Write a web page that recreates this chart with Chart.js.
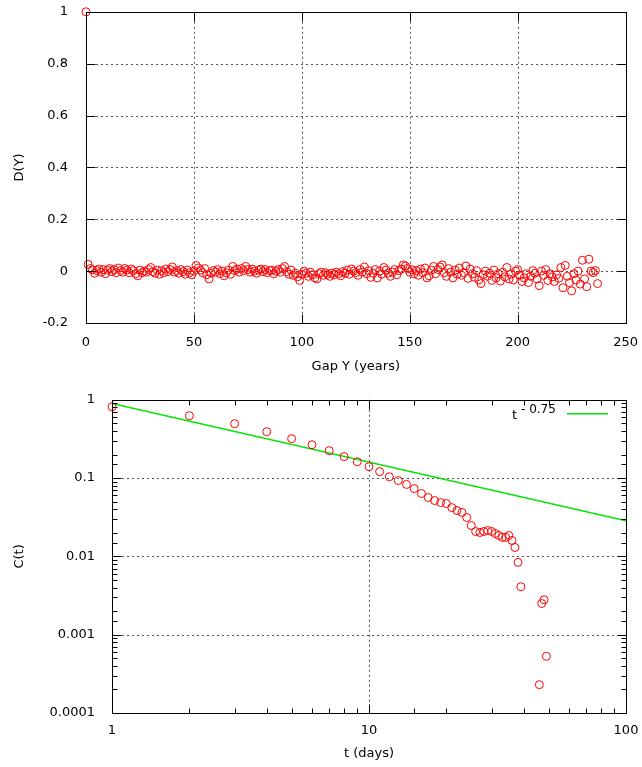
<!DOCTYPE html>
<html>
<head>
<meta charset="utf-8">
<script src="https://cdn.jsdelivr.net/npm/chart.js@4/dist/chart.umd.min.js"></script>
<style>
  body { margin: 0; background: #fff; overflow: hidden; }
  canvas { display: block; }
  #grafikD { margin-top: -6px; }
</style>
</head>
<body>
<canvas id="grafikD" width="642" height="389"></canvas>
<canvas id="grafikC" width="642" height="384"></canvas>
<script>
  // D(Y) for each gap Y = 0, 1, 2, ... years
  var dValues = [
    1, 0.026, 0.01, 0.005, -0.008, 0.002, 0.008, -0.004, 0.006, -0.01,
    0.004, 0.01, -0.002, 0.006, -0.006, 0.012, 0.002, -0.004, 0.01, 0.004,
    -0.006, 0.008, 0.002, -0.01, -0.018, 0.004, -0.006, 0.0, -0.004, 0.006,
    0.014, -0.002, -0.008, 0.004, -0.012, 0.002, -0.006, 0.008, -0.002, 0.006,
    0.016, -0.004, 0.002, -0.008, 0.006, -0.002, -0.012, 0.004, -0.006, -0.014,
    0.0, 0.022, 0.012, 0.004, -0.006, 0.01, -0.014, -0.03, -0.008, 0.002,
    -0.004, 0.006, -0.01, 0.0, -0.018, -0.006, 0.004, -0.012, 0.018, 0.002,
    0.008, -0.004, 0.01, 0.002, 0.018, 0.006, -0.004, 0.008, 0.0, -0.008,
    0.004, 0.008, -0.002, 0.006, -0.006, 0.002, 0.004, -0.01, 0.0, 0.006,
    -0.004, 0.01, 0.018, -0.002, -0.012, 0.004, -0.016, -0.008, -0.022, -0.036,
    -0.012, 0.0, -0.008, -0.02, -0.004, -0.014, -0.026, -0.03, -0.01, -0.004,
    -0.016, -0.006, -0.012, -0.02, -0.008, -0.014, -0.004, -0.01, -0.018, -0.002,
    -0.008, 0.004, -0.012, 0.008, 0.0, -0.006, -0.016, 0.006, -0.004, 0.016,
    -0.01, 0.002, -0.024, -0.008, 0.006, -0.026, 0.0, -0.012, 0.014, 0.004,
    -0.008, -0.02, -0.004, 0.006, -0.014, 0.002, 0.008, 0.024, 0.02, 0.01,
    -0.004, 0.006, -0.01, 0.002, -0.016, 0.008, -0.006, 0.012, -0.026, -0.018,
    0.004, 0.018, -0.01, 0.006, 0.016, 0.024, -0.006, -0.02, 0.01, -0.004,
    -0.026, 0.004, -0.012, 0.012, -0.016, -0.006, 0.02, -0.028, 0.008, -0.01,
    -0.024, 0.002, -0.034, -0.048, -0.014, 0.0, -0.02, -0.008, -0.036, 0.004,
    -0.026, -0.01, -0.038, -0.004, -0.022, 0.014, -0.03, -0.012, -0.034, 0.0,
    0.006, -0.016, -0.04, -0.026, -0.01, -0.044, -0.02, 0.002, -0.008, -0.03,
    -0.056, 0.0, -0.016, 0.006, -0.036, -0.01, -0.022, -0.04, -0.014, -0.028,
    0.014, -0.064, 0.022, -0.02, -0.044, -0.076, -0.01, -0.034, 0.0, -0.05,
    0.042, -0.03, -0.06, 0.046, 0.0, -0.006, 0.002, -0.048
  ];

  // C(t) against t in days (days 40-45 are zero, so not on the log axis)
  var tDays = [1, 2, 3, 4, 5, 6, 7, 8, 9, 10,
               11, 12, 13, 14, 15, 16, 17, 18, 19, 20,
               21, 22, 23, 24, 25, 26, 27, 28, 29, 30,
               31, 32, 33, 34, 35, 36, 37, 38, 39,
               46, 47, 48, 49];
  var cValues = [0.815, 0.626, 0.495, 0.391, 0.319, 0.267, 0.224, 0.188, 0.162, 0.140,
                 0.121, 0.104, 0.093, 0.083, 0.0735, 0.0635, 0.0565, 0.0517, 0.0488, 0.0473,
                 0.042, 0.0385, 0.0364, 0.0314, 0.0248, 0.0208, 0.0202, 0.0208, 0.0214, 0.0208,
                 0.0196, 0.0185, 0.0175, 0.0175, 0.0185, 0.016, 0.013, 0.0084, 0.0041,
                 0.00023, 0.0025, 0.0028, 0.00053];

  // power law guide: fitAmp * t^fitExp
  var fitAmp = 0.9;
  var fitExp = -0.75;

  var dYTicks = [-0.2, 0, 0.2, 0.4, 0.6, 0.8, 1];
  var gapTicks = [0, 50, 100, 150, 200, 250];

  var huruf = { family: "'DejaVu Sans', sans-serif", size: 13 };

  function isMajor(scale, v) {
    if (scale.type !== 'logarithmic') return true;
    var l = Math.log10(v);
    return Math.abs(l - Math.round(l)) < 1e-9;
  }

  // gnuplot-ish frame: dotted grid on major ticks, black box, inward ticks on all sides
  var bingkai = {
    id: 'bingkai',
    beforeDatasetsDraw: function(chart) {
      var a = chart.chartArea, ctx = chart.ctx;
      var sx = chart.scales.x, sy = chart.scales.y;
      ctx.save();
      ctx.strokeStyle = '#555';
      ctx.lineWidth = 1;
      ctx.setLineDash([2, 3]);
      ctx.beginPath();
      sx.ticks.forEach(function(t) {
        if (!isMajor(sx, t.value)) return;
        var px = Math.round(sx.getPixelForValue(t.value)) + 0.5;
        if (px < a.left + 2 || px > a.right - 2) return;
        ctx.moveTo(px, a.top); ctx.lineTo(px, a.bottom);
      });
      sy.ticks.forEach(function(t) {
        if (!isMajor(sy, t.value)) return;
        var py = Math.round(sy.getPixelForValue(t.value)) + 0.5;
        if (py < a.top + 2 || py > a.bottom - 2) return;
        ctx.moveTo(a.left, py); ctx.lineTo(a.right, py);
      });
      ctx.stroke();
      ctx.restore();
    },
    afterDatasetsDraw: function(chart) {
      var a = chart.chartArea, ctx = chart.ctx;
      var sx = chart.scales.x, sy = chart.scales.y;
      var l = Math.round(a.left) + 0.5, r = Math.round(a.right) + 0.5;
      var t0 = Math.round(a.top) + 0.5, b = Math.round(a.bottom) + 0.5;
      ctx.save();
      ctx.strokeStyle = '#000';
      ctx.lineWidth = 1;
      ctx.beginPath();
      sx.ticks.forEach(function(t) {
        var len = isMajor(sx, t.value) ? 9 : 5;
        var px = Math.round(sx.getPixelForValue(t.value)) + 0.5;
        ctx.moveTo(px, b); ctx.lineTo(px, b - len);
        ctx.moveTo(px, t0); ctx.lineTo(px, t0 + len);
      });
      sy.ticks.forEach(function(t) {
        var len = isMajor(sy, t.value) ? 9 : 5;
        var py = Math.round(sy.getPixelForValue(t.value)) + 0.5;
        ctx.moveTo(l, py); ctx.lineTo(l + len, py);
        ctx.moveTo(r, py); ctx.lineTo(r - len, py);
      });
      ctx.stroke();
      ctx.strokeRect(l, t0, r - l, b - t0);
      ctx.restore();
    }
  };

  // upper plot: D(Y) vs gap
  var titikD = dValues.map(function(v, i) { return { x: i, y: v }; });

  new Chart(document.getElementById('grafikD').getContext('2d'), {
    type: 'scatter',
    data: {
      datasets: [{
        data: titikD,
        borderColor: '#ff0000',
        backgroundColor: 'rgba(0,0,0,0)',
        borderWidth: 1,
        pointRadius: 4,
        clip: false
      }]
    },
    options: {
      responsive: false,
      animation: false,
      events: [],
      layout: { padding: { top: 5, right: 16, left: 0, bottom: 0 } },
      plugins: { legend: { display: false }, tooltip: { enabled: false } },
      scales: {
        x: {
          type: 'linear', min: 0, max: 250,
          afterBuildTicks: function(s) { s.ticks = gapTicks.map(function(v) { return { value: v }; }); },
          ticks: { padding: 4, color: '#000', font: huruf, maxRotation: 0 },
          grid: { display: false },
          border: { display: false },
          title: { display: true, text: 'Gap Y (years)', color: '#000', font: huruf, padding: { top: 2, bottom: 9 } },
          afterFit: function(s) { s.height = 60; }
        },
        y: {
          type: 'linear', min: -0.2, max: 1,
          afterBuildTicks: function(s) { s.ticks = dYTicks.map(function(v) { return { value: v }; }); },
          ticks: {
            padding: 10, color: '#000', font: huruf,
            callback: function(v) { return String(+v.toFixed(1)); }
          },
          grid: { display: false },
          border: { display: false },
          title: { display: true, text: 'D(Y)', color: '#000', font: huruf, padding: { top: 12, bottom: 0 } },
          afterFit: function(s) { s.width = 86; }
        }
      }
    },
    plugins: [bingkai]
  });

  // lower plot: C(t) on log-log axes with the power law guide
  var titikC = tDays.map(function(t, i) { return { x: t, y: cValues[i] }; });
  var garisFit = [1, 100].map(function(t) { return { x: t, y: fitAmp * Math.pow(t, fitExp) }; });

  var legendaFit = {
    id: 'legendaFit',
    afterDatasetsDraw: function(chart) {
      var a = chart.chartArea, ctx = chart.ctx;
      var y = a.top + 14;
      var supLeft = a.right - 105;
      ctx.save();
      ctx.fillStyle = '#000';
      ctx.textBaseline = 'alphabetic';
      ctx.textAlign = 'left';
      ctx.font = "12px 'DejaVu Sans', sans-serif";
      ctx.fillText('- 0.75', supLeft, y - 1);
      ctx.textAlign = 'right';
      ctx.font = "13px 'DejaVu Sans', sans-serif";
      ctx.fillText('t', supLeft - 4, y + 5);
      ctx.strokeStyle = '#00e600';
      ctx.lineWidth = 1.5;
      ctx.beginPath();
      ctx.moveTo(a.right - 59, y);
      ctx.lineTo(a.right - 18, y);
      ctx.stroke();
      ctx.restore();
    }
  };

  new Chart(document.getElementById('grafikC').getContext('2d'), {
    type: 'scatter',
    data: {
      datasets: [{
        data: titikC,
        borderColor: '#ff0000',
        backgroundColor: 'rgba(0,0,0,0)',
        borderWidth: 1,
        pointRadius: 4,
        clip: false
      }, {
        type: 'line',
        data: garisFit,
        borderColor: '#00e600',
        borderWidth: 1.5,
        pointRadius: 0,
        fill: false
      }]
    },
    options: {
      responsive: false,
      animation: false,
      events: [],
      layout: { padding: { top: 16, right: 16, left: 0, bottom: 0 } },
      plugins: { legend: { display: false }, tooltip: { enabled: false } },
      scales: {
        x: {
          type: 'logarithmic', min: 1, max: 100,
          ticks: {
            autoSkip: false, padding: 2, color: '#000', font: huruf, maxRotation: 0,
            callback: function(v) { return isMajor(this, v) ? String(v) : ''; }
          },
          grid: { display: false },
          border: { display: false },
          title: { display: true, text: 't (days)', color: '#000', font: huruf, padding: { top: 2, bottom: 6 } },
          afterFit: function(s) { s.height = 54; }
        },
        y: {
          type: 'logarithmic', min: 0.0001, max: 1,
          ticks: {
            autoSkip: false, padding: 9, color: '#000', font: huruf,
            callback: function(v) { return isMajor(this, v) ? String(v) : ''; }
          },
          grid: { display: false },
          border: { display: false },
          title: { display: true, text: 'C(t)', color: '#000', font: huruf, padding: { top: 12, bottom: 0 } },
          afterFit: function(s) { s.width = 112; }
        }
      }
    },
    plugins: [bingkai, legendaFit]
  });
</script>
</body>
</html>
